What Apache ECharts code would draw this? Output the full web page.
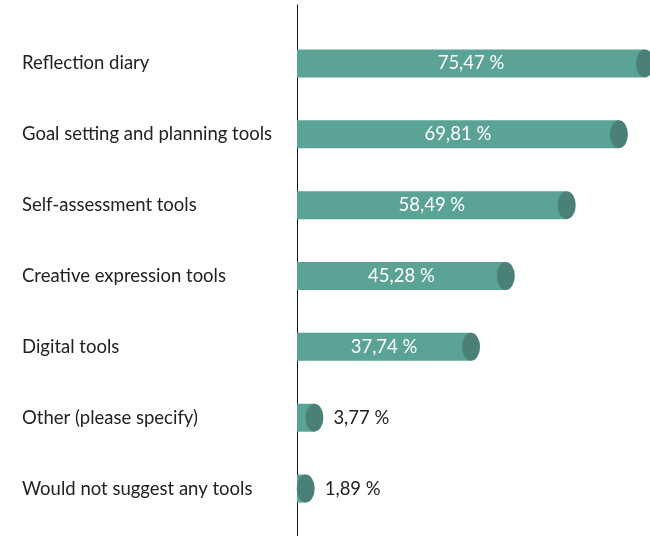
<!DOCTYPE html>
<html>
<head>
<meta charset="utf-8">
<style>
  html, body { margin: 0; padding: 0; background: #ffffff; }
  #chart { width: 650px; height: 536px; }
</style>
<script src="https://cdn.jsdelivr.net/npm/echarts@6/dist/echarts.min.js"></script>
</head>
<body>
<div id="chart"></div>
<script>
// Suggested tools, share of respondents (%)
const categories = [
  'Reflection diary',
  'Goal setting and planning tools',
  'Self-assessment tools',
  'Creative expression tools',
  'Digital tools',
  'Other (please specify)',
  'Would not suggest any tools'
];
const shares = [75.47, 69.81, 58.49, 45.28, 37.74, 3.77, 1.89];

const FONT = 'Lato, "Open Sans", sans-serif';
const FONT_SIZE = 18.5;
const BAR = '#5aa396';
const CAP = '#4a8078';
const fmt = v => v.toFixed(2).replace('.', ',') + ' %';
const SMALL = 10; // values below this get their label outside the bar

const chart = echarts.init(document.getElementById('chart'), null, { renderer: 'canvas' });

chart.setOption({
  animation: false,
  grid: [
    { left: 297, right: 5, top: 28, bottom: 12, containLabel: false },
    { left: 297, right: 5, top: 5, bottom: 0, containLabel: false }
  ],
  xAxis: [
    { type: 'value', gridIndex: 0, min: 0, max: Math.max(...shares), show: false },
    { type: 'value', gridIndex: 1, min: 0, max: 1, show: false }
  ],
  yAxis: [
    {
      type: 'category', gridIndex: 0, data: categories, inverse: true,
      axisLine: { show: false }, axisTick: { show: false },
      axisLabel: {
        align: 'left', margin: 275, color: '#222222',
        fontFamily: FONT, fontSize: FONT_SIZE
      }
    },
    {
      type: 'value', gridIndex: 1, min: 0, max: 1,
      axisLine: { show: true, lineStyle: { color: '#111111', width: 1 } },
      axisTick: { show: false }, axisLabel: { show: false }, splitLine: { show: false }
    }
  ],
  series: [
    {
      type: 'bar', xAxisIndex: 0, yAxisIndex: 0,
      data: shares, barWidth: 28,
      itemStyle: { color: BAR },
      label: {
        show: true, position: 'inside', color: '#ffffff',
        fontFamily: FONT, fontSize: FONT_SIZE,
        formatter: p => p.value >= SMALL ? fmt(p.value) : ''
      },
      z: 2
    },
    {
      type: 'scatter', xAxisIndex: 0, yAxisIndex: 0,
      data: shares.map((v, i) => [v, i]),
      symbol: 'circle', symbolSize: [18, 28],
      itemStyle: { color: CAP, opacity: 1 },
      clip: false,
      label: {
        show: true, position: 'right', distance: 10, color: '#222222',
        fontFamily: FONT, fontSize: FONT_SIZE,
        formatter: p => p.value[0] < SMALL ? fmt(p.value[0]) : ''
      },
      z: 3
    }
  ]
});
</script>
</body>
</html>
